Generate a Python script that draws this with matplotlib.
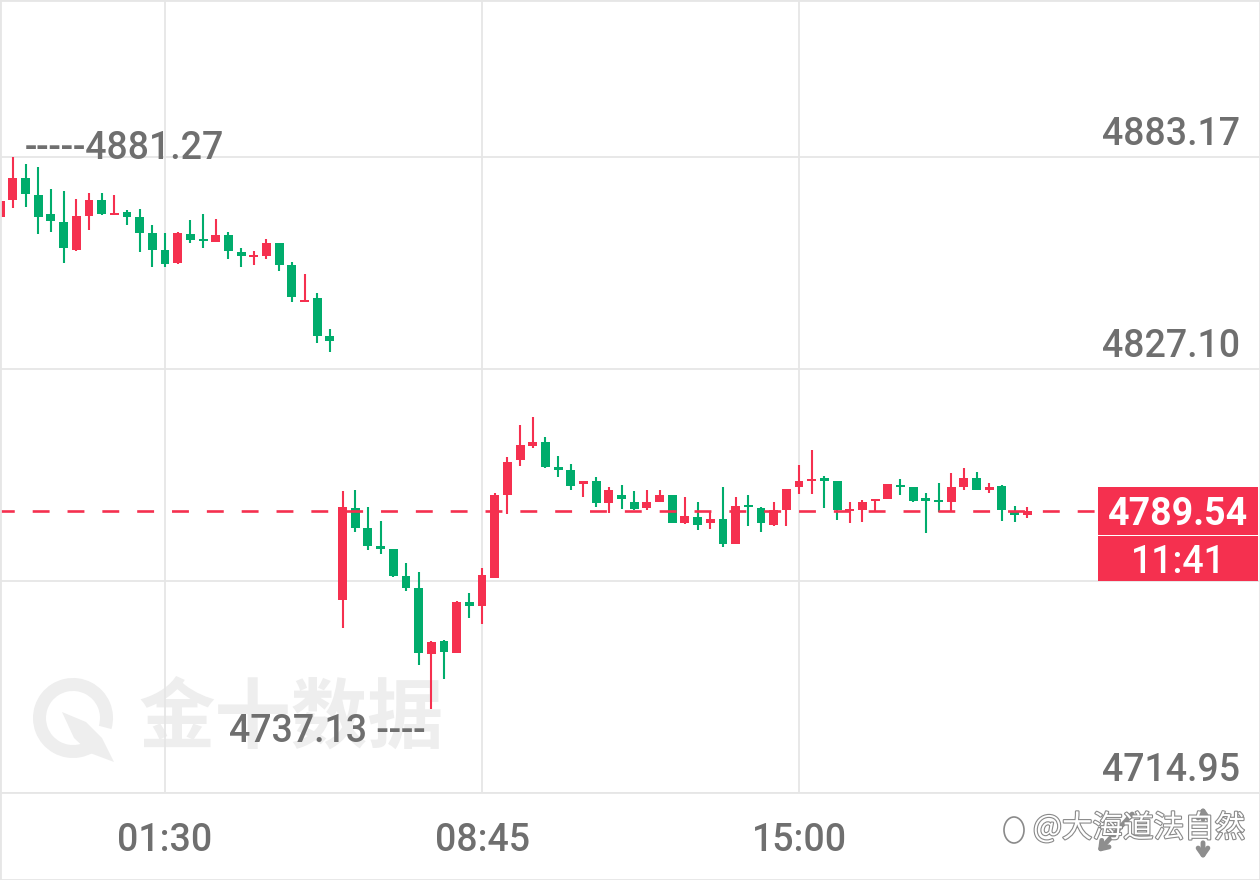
"""15-minute gold candles with last-price box, Jin10 app style."""
import matplotlib
matplotlib.use("Agg")
import matplotlib.pyplot as plt
import matplotlib.transforms as mtransforms
from matplotlib import patheffects
from matplotlib.patches import Rectangle, Arc, Polygon, Ellipse
import numpy as np

# candles (red = up, green = down)
OPEN = [4867.30, 4871.80, 4877.60, 4873.10, 4868.10, 4866.00, 4858.60, 4867.60, 4871.80, 4867.80,
        4868.70, 4867.30, 4863.10, 4858.60, 4855.10, 4862.80, 4861.20, 4860.80, 4862.50, 4858.00,
        4856.60, 4856.90, 4860.30, 4854.60, 4844.80, 4845.90, 4835.80, 4765.90, 4790.30, 4785.00,
        4780.30, 4779.50, 4772.40, 4769.10, 4751.70, 4755.20, 4752.10, 4765.40, 4764.40, 4771.80,
        4793.80, 4803.00, 4806.80, 4807.90, 4801.10, 4800.40, 4796.70, 4797.40, 4791.70, 4793.80,
        4792.00, 4790.20, 4792.00, 4793.70, 4786.30, 4788.00, 4786.30, 4787.30, 4780.90, 4791.10,
        4790.40, 4785.80, 4789.90, 4795.80, 4797.40, 4798.20, 4797.50, 4789.50, 4789.80, 4792.20,
        4792.70, 4796.40, 4795.80, 4792.70, 4792.30, 4792.00, 4795.80, 4798.20, 4795.10, 4796.20,
        4789.50, 4788.50]
HIGH = [4880.53, 4883.10, 4881.27, 4880.50, 4874.70, 4874.20, 4872.10, 4873.60, 4873.60, 4873.10,
        4869.20, 4869.40, 4865.20, 4863.10, 4863.30, 4866.50, 4868.10, 4866.80, 4863.30, 4859.10,
        4858.20, 4861.50, 4860.40, 4855.40, 4852.20, 4847.20, 4837.70, 4794.80, 4795.10, 4790.70,
        4786.80, 4779.60, 4775.80, 4773.50, 4755.20, 4755.30, 4765.70, 4767.90, 4774.50, 4794.30,
        4803.70, 4812.30, 4814.50, 4809.10, 4804.00, 4802.00, 4797.60, 4798.40, 4796.00, 4796.50,
        4794.90, 4795.00, 4795.00, 4793.80, 4793.30, 4791.90, 4789.60, 4796.00, 4793.20, 4793.90,
        4790.50, 4791.90, 4795.40, 4801.70, 4805.80, 4798.80, 4797.60, 4791.80, 4792.50, 4792.70,
        4796.80, 4797.90, 4795.90, 4794.40, 4797.00, 4799.50, 4800.80, 4799.90, 4797.00, 4796.30,
        4790.80, 4790.70]
LOW = [4865.71, 4869.70, 4870.00, 4862.80, 4863.30, 4855.10, 4858.30, 4863.90, 4867.80, 4867.70,
       4865.20, 4858.00, 4854.10, 4854.10, 4855.00, 4860.40, 4859.10, 4860.60, 4856.20, 4854.10,
       4854.50, 4856.20, 4853.00, 4844.80, 4844.80, 4834.00, 4831.70, 4758.60, 4784.00, 4779.20,
       4778.20, 4772.20, 4768.30, 4748.80, 4737.13, 4745.10, 4752.00, 4761.30, 4759.70, 4771.70,
       4788.80, 4801.40, 4806.20, 4800.80, 4798.60, 4795.20, 4793.30, 4790.60, 4789.00, 4790.10,
       4789.90, 4789.90, 4791.90, 4786.30, 4786.20, 4784.50, 4784.90, 4779.90, 4780.80, 4785.60,
       4784.00, 4785.60, 4785.60, 4794.00, 4794.00, 4790.30, 4787.20, 4786.40, 4786.50, 4789.50,
       4792.60, 4793.80, 4791.80, 4783.60, 4789.40, 4789.40, 4795.00, 4795.10, 4794.40, 4787.00,
       4786.70, 4787.60]
CLOSE = [4871.53, 4877.60, 4873.40, 4867.30, 4866.30, 4859.10, 4867.60, 4871.80, 4868.10, 4868.40,
         4867.40, 4863.10, 4858.60, 4854.90, 4863.10, 4861.20, 4860.90, 4862.50, 4858.40, 4856.90,
         4857.00, 4860.30, 4854.70, 4846.10, 4845.30, 4835.90, 4834.40, 4790.50, 4785.00, 4780.30,
         4779.40, 4772.40, 4769.20, 4752.00, 4755.00, 4752.30, 4765.50, 4764.30, 4772.60, 4793.80,
         4802.60, 4807.00, 4807.90, 4801.20, 4800.40, 4796.20, 4797.50, 4791.70, 4795.10, 4792.60,
         4790.00, 4792.00, 4793.80, 4786.40, 4788.10, 4785.90, 4787.40, 4780.80, 4790.90, 4790.50,
         4786.30, 4789.90, 4795.30, 4797.50, 4798.00, 4797.60, 4789.80, 4790.00, 4792.00, 4792.60,
         4796.60, 4795.90, 4792.20, 4792.30, 4791.90, 4795.80, 4798.20, 4795.10, 4796.00, 4789.80,
         4788.50, 4789.54]

TIME_TICKS = [13, 38, 63]
TIME_LABELS = ["01:30", "08:45", "15:00"]
PRICE_GRID = [4714.95, 4771.02, 4827.10, 4883.17]
PRICE_LABELS = [4883.17, 4827.10, 4714.95]
LAST_PRICE = 4789.54
COUNTDOWN = "11:41"
HIGH_MARK = (2, 4881.27)
LOW_MARK = (34, 4737.13)
WATERMARK = "金十数据"
AUTHOR = "@大海道法自然"

RED = "#F5304F"
GREEN = "#00AC6C"
GRID = "#E6E6E6"
TXT = "#6F6F6F"
NUM_FONT = ["Roboto", "DejaVu Sans"]
CJK_FONT = ["Noto Sans CJK SC", "DejaVu Sans"]
FS = 27

PX = 0.72  # points per pixel at dpi 100


def main():
    o, h, l, c = (np.array(v) for v in (OPEN, HIGH, LOW, CLOSE))
    idx = np.arange(len(o))
    colors = np.where(c >= o, RED, GREEN)

    fig = plt.figure(figsize=(12.6, 8.8), dpi=100)
    ax = fig.add_axes([0, 87 / 880, 1, 793 / 880])

    # 12.68 px per candle, 636 px between the 4714.95 and 4883.17 grid lines
    px_per_unit = 636 / (PRICE_GRID[-1] - PRICE_GRID[0])
    ax.set_xlim(-0.2 / 12.68, 1259.8 / 12.68)
    ax.set_ylim(PRICE_GRID[0], PRICE_GRID[0] + 793 / px_per_unit)

    ax.vlines(idx, l, h, colors=colors, lw=1.5, zorder=3)
    body_lo = np.minimum(o, c)
    body_h = np.maximum(np.abs(c - o), 0.55)
    ax.bar(idx, body_h, bottom=body_lo, width=0.7, color=colors, lw=0, zorder=4)

    ax.set_xticks(TIME_TICKS, TIME_LABELS)
    ax.set_yticks(PRICE_GRID)
    ax.grid(True, color=GRID, lw=1.3, zorder=0)
    ax.tick_params(length=0, labelleft=False, pad=21, labelsize=FS, labelcolor=TXT)
    for lab in ax.get_xticklabels():
        lab.set_family(NUM_FONT)
        lab.set_weight("medium")
    for side in ("top", "left", "right"):
        ax.spines[side].set_visible(False)
    ax.spines["bottom"].set_color(GRID)
    ax.spines["bottom"].set_linewidth(1.3)

    trans = mtransforms.blended_transform_factory(ax.transAxes, ax.transData)
    for v in PRICE_LABELS:
        ax.annotate(f"{v:.2f}", (1240 / 1260, v), xycoords=trans,
                    xytext=(0, 12 * PX), textcoords="offset points",
                    ha="right", va="baseline", fontsize=FS, color=TXT,
                    family=NUM_FONT, weight="medium", zorder=6)

    # last price dashed line and box
    ax.axhline(LAST_PRICE, xmax=1098 / 1260, color=RED, lw=1.9,
               ls=(1, (6.4, 6.8)), zorder=5)
    half = 24 / px_per_unit
    ax.add_patch(Rectangle((1098 / 1260, LAST_PRICE - half), 160 / 1260, 2 * half,
                           transform=trans, color=RED, lw=0, zorder=6))
    ax.add_patch(Rectangle((1098 / 1260, PRICE_GRID[1]), 160 / 1260,
                           LAST_PRICE - half - PRICE_GRID[1] - 0.25,
                           transform=trans, color=RED, lw=0, zorder=6))
    ax.text(1178 / 1260, LAST_PRICE, f"{LAST_PRICE:.2f}", transform=trans,
            ha="center", va="center_baseline", fontsize=FS, color="white",
            weight="bold", family=NUM_FONT, zorder=7)
    ax.text(1178 / 1260, (LAST_PRICE - half + PRICE_GRID[1]) / 2, COUNTDOWN,
            transform=trans, ha="center", va="center_baseline", fontsize=FS,
            color="white", weight="medium", family=NUM_FONT, zorder=7)

    # session high / low markers
    ax.annotate(f"-----{HIGH_MARK[1]:.2f}", HIGH_MARK, xytext=(-1 * PX, 5 * PX),
                textcoords="offset points", ha="left", va="baseline",
                fontsize=FS, color=TXT, family=NUM_FONT, weight="medium", zorder=6)
    ax.annotate(f"{LOW_MARK[1]:.2f} ----", LOW_MARK, xytext=(-6 * PX, -33 * PX),
                textcoords="offset points", ha="right", va="baseline",
                fontsize=FS, color=TXT, family=NUM_FONT, weight="medium", zorder=6)

    # faint watermark logo
    wm = "#EEEEEE"
    ax.text(138 / 1260, (793 - 720) / 793, WATERMARK, transform=ax.transAxes,
            ha="left", va="center", fontsize=55, weight="bold", color=wm,
            family=CJK_FONT, zorder=1)
    ax.add_patch(Arc((73 / 1260, (793 - 718) / 793), 67 / 1260, 67 / 793,
                     theta1=-25, theta2=290, transform=ax.transAxes,
                     color=wm, lw=13 * PX, zorder=1))
    leaf = [(62, 712), (86, 722), (102, 738), (114, 762), (90, 753), (74, 738)]
    ax.add_patch(Polygon([(x / 1260, (793 - y) / 793) for x, y in leaf],
                         closed=True, transform=ax.transAxes, color=wm, lw=0, zorder=1))

    # author watermark and app icons in the bottom strip
    fig.text(1033 / 1260, (880 - 828) / 880, AUTHOR, ha="left", va="center",
             fontsize=22, color="white", family=CJK_FONT,
             path_effects=[patheffects.withStroke(linewidth=1.6, foreground="#8A8A8A")])
    fig.patches.append(Ellipse((1014 / 1260, (880 - 830) / 880), 20 / 1260, 26 / 880,
                               transform=fig.transFigure, fill=False,
                               ec="#8A8A8A", lw=1.2))
    arrow = dict(arrowstyle="->,head_length=0.5,head_width=0.35", lw=3.5, color="#8E8E8E")
    ax.annotate("", xy=(1096, 26), xycoords="figure pixels", xytext=(1134, 68),
                textcoords="figure pixels", arrowprops=arrow)
    ax.annotate("", xy=(1203, 76), xycoords="figure pixels", xytext=(1203, 58),
                textcoords="figure pixels", arrowprops=arrow)
    ax.annotate("", xy=(1203, 18), xycoords="figure pixels", xytext=(1203, 40),
                textcoords="figure pixels", arrowprops=arrow)

    fig.patches.append(Rectangle((0, 0), 1, 1, transform=fig.transFigure,
                                 fill=False, ec=GRID, lw=2))

    fig.savefig("out.png", dpi=100)


if __name__ == "__main__":
    main()
